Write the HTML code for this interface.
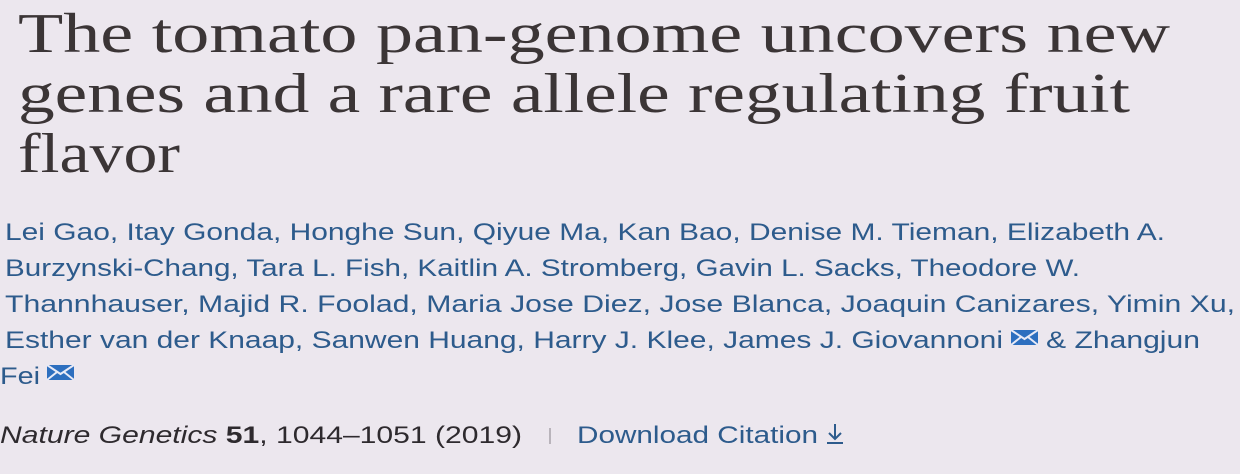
<!DOCTYPE html>
<html><head><meta charset="utf-8"><style>
html,body{margin:0;padding:0;background:#ece7ee;}
svg{display:block}
.t{font-family:"Liberation Serif",serif;font-size:56px;fill:#3b3536}
.a{font-family:"Liberation Sans",sans-serif;font-size:24px;fill:#2d5b8c}
.c{font-family:"Liberation Sans",sans-serif;font-size:24px;fill:#2e2a2e}
</style></head><body>
<svg width="1240" height="474" viewBox="0 0 1240 474">
<rect width="1240" height="474" fill="#ece7ee"/>
<g>
<text class="t" x="18" y="52" textLength="1152" lengthAdjust="spacingAndGlyphs">The tomato pan-genome uncovers new</text>
<text class="t" x="18" y="112" textLength="1112" lengthAdjust="spacingAndGlyphs">genes and a rare allele regulating fruit</text>
<text class="t" x="18" y="172" textLength="162" lengthAdjust="spacingAndGlyphs">flavor</text>
</g>
<g>
<text class="a" x="5" y="240" textLength="1160" lengthAdjust="spacingAndGlyphs">Lei Gao, Itay Gonda, Honghe Sun, Qiyue Ma, Kan Bao, Denise M. Tieman, Elizabeth A.</text>
<text class="a" x="5" y="276" textLength="1075" lengthAdjust="spacingAndGlyphs">Burzynski-Chang, Tara L. Fish, Kaitlin A. Stromberg, Gavin L. Sacks, Theodore W.</text>
<text class="a" x="5" y="312" textLength="1230" lengthAdjust="spacingAndGlyphs">Thannhauser, Majid R. Foolad, Maria Jose Diez, Jose Blanca, Joaquin Canizares, Yimin Xu,</text>
<text class="a" x="5" y="348" textLength="998" lengthAdjust="spacingAndGlyphs">Esther van der Knaap, Sanwen Huang, Harry J. Klee, James J. Giovannoni</text>
<text class="a" x="1046" y="348" textLength="154" lengthAdjust="spacingAndGlyphs">&amp; Zhangjun</text>
<text class="a" x="0" y="384" textLength="40" lengthAdjust="spacingAndGlyphs">Fei</text>
</g>
<g>
<rect x="1011" y="330" width="27" height="15" fill="#2d6fbf"/>
<path d="M1011 330 L1024.5 339 L1038 330 M1011 345 L1021 337 M1038 345 L1028 337" stroke="#e8eaf6" stroke-width="2" fill="none"/>
</g>
<g>
<rect x="47" y="365" width="27" height="15" fill="#2d6fbf"/>
<path d="M47 365 L60.5 374 L74 365 M47 380 L57 372 M74 380 L64 372" stroke="#e8eaf6" stroke-width="2" fill="none"/>
</g>
<g>
<text class="c" x="0" y="443" textLength="522" lengthAdjust="spacingAndGlyphs"><tspan font-style="italic">Nature Genetics</tspan> <tspan font-weight="bold">51</tspan>, 1044–1051 (2019)</text>
<rect x="549" y="428" width="2" height="16" fill="#b9b4bb"/>
</g>
<g>
<text class="a" x="577" y="443" textLength="241" lengthAdjust="spacingAndGlyphs">Download Citation</text>
<path d="M835 424 V439 M829 433 L835 439 L841 433 M827 443 H843" stroke="#2d5b8c" stroke-width="2" fill="none"/>
</g>
</svg>
</body></html>
